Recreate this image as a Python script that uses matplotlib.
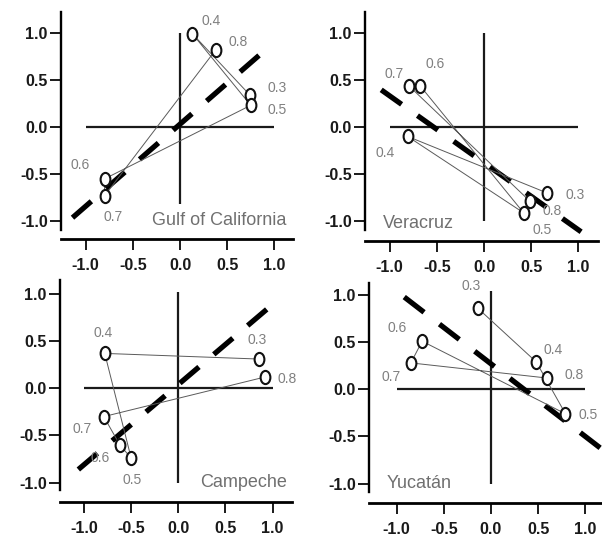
import numpy as np
import matplotlib
matplotlib.use("Agg")
import matplotlib.pyplot as plt
from matplotlib.path import Path
from matplotlib.transforms import Affine2D

plt.rcParams['font.family'] = ['Liberation Sans', 'DejaVu Sans']
plt.rcParams['lines.scale_dashes'] = False

# parameter values labelling each point (points joined in this order)
params = ['0.3', '0.4', '0.5', '0.6', '0.7', '0.8']

names = ['Gulf of California', 'Veracruz', 'Campeche', 'Yucatán']

gulf_x = [0.74, 0.13, 0.75, -0.80, -0.80, 0.38]
gulf_y = [0.34, 0.99, 0.23, -0.55, -0.73, 0.82]

vera_x = [0.67, -0.81, 0.42, -0.68, -0.80, 0.49]
vera_y = [-0.70, -0.10, -0.91, 0.44, 0.44, -0.79]

camp_x = [0.86, -0.78, -0.50, -0.62, -0.79, 0.92]
camp_y = [0.31, 0.37, -0.74, -0.60, -0.30, 0.12]

yuca_x = [-0.14, 0.48, 0.79, -0.73, -0.85, 0.59]
yuca_y = [0.86, 0.29, -0.26, 0.51, 0.28, 0.12]

# fitted line: slope, intercept, x start, x end
fit_slope = [0.87, -0.71, 0.85, -0.77]
fit_icpt = [0.03, -0.38, 0.04, 0.27]
fit_x0 = [-1.14, -1.09, -1.06, -0.92]
fit_x1 = [0.88, 1.03, 0.97, 1.30]

# vertical reference line extent per panel
vline_lo = [-0.82, -1.0, -1.0, -1.0]
vline_hi = [1.0, 1.0, 1.02, 1.04]

ticks = [-1.0, -0.5, 0.0, 0.5, 1.0]
tick_labels = ['-1.0', '-0.5', '0.0', '0.5', '1.0']

xs = [gulf_x, vera_x, camp_x, yuca_x]
ys = [gulf_y, vera_y, camp_y, yuca_y]

# ---- layout (pixels of a 602x540 figure) ----
W, H = 602, 540
S = 94.3  # pixels per data unit
# x of data 0, y of data 0, left, right, top, bottom, bottom spine y
frames = [
    (180, 127, 61, 293, 12, 230, 239),
    (484, 127, 365, 598, 12, 230, 241),
    (178.3, 388.3, 60, 292, 280, 490, 502),
    (491, 389.3, 369, 602, 283, 492, 503),
]

# label offsets in pixels (dx, dy) for each point
label_off = [
    [(27, 7), (19, 13), (26, -5), (-24, 14), (9, -21), (22, 8)],
    [(28, -2), (-22, -17), (19, -17), (15, 22), (-14, 12), (22, -10)],
    [(-2, 19), (-2, 20), (1, -22), (-20, -13), (-22, -12), (22, -2)],
    [(-7, 22), (17, 12), (23, -1), (-25, 13), (-20, -14), (27, 3)],
]
# panel name position and alignment
name_pos = [(1.13, -0.99, 'right'), (-1.07, -1.02, 'left'),
            (1.15, -1.0, 'right'), (-1.11, -1.0, 'left')]

oval = Path.unit_circle().transformed(Affine2D().scale(0.74, 1.0))

fig = plt.figure(figsize=(W / 100, H / 100), dpi=100)

for i in range(4):
    x0, y0, l, r, t, b, bs = frames[i]
    ax = fig.add_axes([l / W, 1 - b / H, (r - l) / W, (b - t) / H])
    ax.set_xlim((l - x0) / S, (r - x0) / S)
    ax.set_ylim((y0 - b) / S, (y0 - t) / S)
    ax.patch.set_alpha(0)
    for sp in ['top', 'right']:
        ax.spines[sp].set_visible(False)
    ax.spines['left'].set_linewidth(1.7)
    ax.spines['bottom'].set_linewidth(2.0)
    ax.spines['bottom'].set_position(('outward', (bs - b) * 0.72))
    ax.set_xticks(ticks)
    ax.set_yticks(ticks)
    ax.set_xticklabels(tick_labels, fontweight='bold')
    ax.set_yticklabels(tick_labels, fontweight='bold')
    ax.tick_params(direction='out', length=8, width=1.4, labelsize=11.5,
                   colors='#1a1a1a')
    ax.tick_params(axis='x', pad=6)
    ax.tick_params(axis='y', pad=1.5)

    # reference cross
    ax.hlines(0, -1.0, 1.0, color='#1a1a1a', lw=1.6)
    ax.vlines(0, vline_lo[i], vline_hi[i], color='#1a1a1a', lw=1.6)

    # fitted line
    fx = np.array([fit_x0[i], fit_x1[i]])
    ax.plot(fx, fit_slope[i] * fx + fit_icpt[i], color='black', lw=3.8,
            dashes=(18, 14), dash_capstyle='butt', clip_on=False, zorder=3)

    # trajectory
    ax.plot(xs[i], ys[i], color='#5a5a5a', lw=0.7, zorder=4)
    ax.plot(xs[i], ys[i], ls='none', marker=oval, ms=9.5, mfc='white',
            mec='#111111', mew=1.5, zorder=5)
    for k, p in enumerate(params):
        dx, dy = label_off[i][k]
        ax.annotate(p, (xs[i][k], ys[i][k]), xytext=(dx, dy),
                    textcoords='offset pixels', ha='center', va='center',
                    fontsize=10, color='#808080', zorder=6)

    nx, ny, ha = name_pos[i]
    ax.text(nx, ny, names[i], ha=ha, va='center', fontsize=13,
            color='#707070', clip_on=False)

fig.savefig('out.png', dpi=100)
